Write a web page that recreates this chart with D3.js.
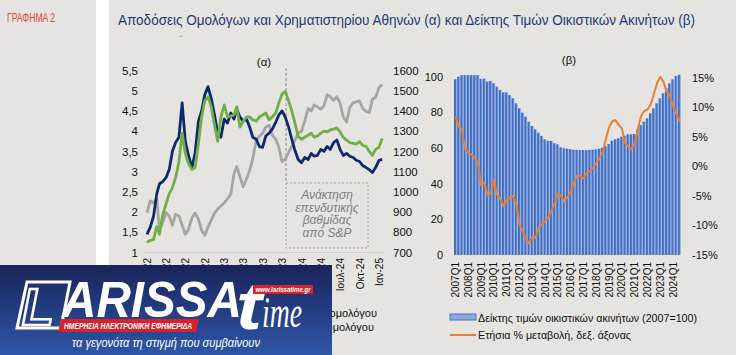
<!DOCTYPE html>
<html><head><meta charset="utf-8">
<script src="https://cdn.jsdelivr.net/npm/d3@7"></script>
<style>
html,body{margin:0;padding:0;background:#e5e4e0;}
svg{display:block;font-family:"Liberation Sans",Arial,sans-serif;}
</style></head><body>
<svg id="c" width="736" height="355"></svg>
<script>
// ---------- Chart (a) data ----------
const aDates = ["2022-01-01","2022-01-16","2022-02-01","2022-02-16","2022-03-01","2022-03-16","2022-04-01","2022-04-16","2022-05-01","2022-05-16","2022-06-01","2022-06-16","2022-07-01","2022-07-16","2022-08-01","2022-08-16","2022-09-01","2022-09-16","2022-10-01","2022-10-16","2022-11-01","2022-11-16","2022-12-01","2022-12-16",
"2023-01-01","2023-01-16","2023-02-01","2023-02-16","2023-03-01","2023-03-16","2023-04-01","2023-04-16","2023-05-01","2023-05-16","2023-06-01","2023-06-16","2023-07-01","2023-07-16","2023-08-01","2023-08-16","2023-09-01","2023-09-16","2023-10-01","2023-10-16","2023-11-01","2023-11-16","2023-12-01","2023-12-16",
"2024-01-01","2024-01-16","2024-02-01","2024-02-16","2024-03-01","2024-03-16","2024-04-01","2024-04-16","2024-05-01","2024-05-16","2024-06-01","2024-06-16","2024-07-01","2024-07-16","2024-08-01","2024-08-16","2024-09-01","2024-09-16","2024-10-01","2024-10-16","2024-11-01","2024-11-16","2024-12-01","2024-12-16",
"2025-01-01","2025-01-16"];
const grYield = [1.45,1.62,1.90,2.45,2.70,2.75,2.85,3.05,3.50,3.72,3.85,4.70,3.75,3.40,3.10,3.45,4.25,4.50,4.90,5.10,4.80,4.40,3.95,3.85,4.30,4.20,4.45,4.30,4.55,4.35,4.25,4.30,4.10,3.85,3.80,3.62,3.60,3.88,3.95,4.05,4.22,4.40,4.50,4.35,4.10,3.80,3.52,3.30,3.22,3.35,3.30,3.45,3.38,3.40,3.55,3.50,3.62,3.55,3.72,3.78,3.55,3.40,3.45,3.38,3.35,3.28,3.25,3.15,3.10,3.05,2.98,3.10,3.28,3.30];
const itYield = [1.25,1.30,1.32,1.64,1.45,1.92,2.20,2.45,2.60,2.85,3.25,3.95,3.45,3.20,3.05,3.10,3.70,4.35,4.75,4.85,4.60,4.15,3.75,4.35,4.65,4.35,4.38,4.40,4.60,4.10,4.25,4.35,4.35,4.28,4.25,4.35,4.40,4.45,4.28,4.35,4.45,4.70,4.92,4.98,4.75,4.50,4.20,3.87,3.80,3.85,3.90,3.95,3.85,3.88,3.95,4.00,3.98,4.03,4.05,4.08,3.98,3.85,3.78,3.72,3.70,3.68,3.74,3.65,3.62,3.50,3.40,3.55,3.60,3.82];
const athex = [895,955,945,965,810,850,898,880,835,890,880,835,790,815,870,895,865,810,785,825,860,895,915,930,945,965,990,1090,1125,1075,1025,1065,1105,1165,1255,1275,1290,1320,1330,1280,1260,1220,1150,1160,1195,1225,1255,1290,1300,1350,1412,1400,1430,1420,1408,1425,1480,1470,1452,1470,1440,1370,1345,1418,1440,1445,1450,1412,1398,1392,1458,1468,1515,1532];
const aYTicks = [1,1.5,2,2.5,3,3.5,4,4.5,5,5.5];
const aY2Ticks = [700,800,900,1000,1100,1200,1300,1400,1500,1600];
const aXTicks = ["2022-01-01","2022-04-01","2022-07-01","2022-10-01","2023-01-01","2023-04-01","2023-07-01","2023-10-01","2024-01-01","2024-04-01","2024-07-01","2024-10-01","2025-01-01"];
const aXLabels = ["Ιαν-22","Απρ-22","Ιουλ-22","Οκτ-22","Ιαν-23","Απρ-23","Ιουλ-23","Οκτ-23","Ιαν-24","Απρ-24","Ιουλ-24","Οκτ-24","Ιαν-25"];
const upgradeDate = "2023-10-20";
const annotLines = ["Ανάκτηση","επενδυτικής","βαθμίδας","από S&P"];
const aLegend = ["Απόδοση 10ετούς ελληνικού ομολόγου","Απόδοση 10ετούς ιταλικού ομολόγου"];

// ---------- Chart (b) data ----------
const quarters = ["2007Q1","2007Q2","2007Q3","2007Q4","2008Q1","2008Q2","2008Q3","2008Q4","2009Q1","2009Q2","2009Q3","2009Q4","2010Q1","2010Q2","2010Q3","2010Q4","2011Q1","2011Q2","2011Q3","2011Q4","2012Q1","2012Q2","2012Q3","2012Q4","2013Q1","2013Q2","2013Q3","2013Q4","2014Q1","2014Q2","2014Q3","2014Q4","2015Q1","2015Q2","2015Q3","2015Q4","2016Q1","2016Q2","2016Q3","2016Q4","2017Q1","2017Q2","2017Q3","2017Q4","2018Q1","2018Q2","2018Q3","2018Q4","2019Q1","2019Q2","2019Q3","2019Q4","2020Q1","2020Q2","2020Q3","2020Q4","2021Q1","2021Q2","2021Q3","2021Q4","2022Q1","2022Q2","2022Q3","2022Q4","2023Q1","2023Q2","2023Q3","2023Q4","2024Q1","2024Q2","2024Q3"];
const hpIndex = [98.4,99.9,100.8,100.8,100.8,100.8,100.8,100.8,98.6,98.8,97.1,97.5,96.2,94.3,92.4,91.1,91.1,89.6,87.8,85.0,82.2,79.7,77.5,74.7,72.3,70.4,68.5,66.7,64.8,64.0,63.9,62.6,62.0,60.3,59.8,59.6,59.3,59.0,58.9,58.8,58.8,58.8,58.9,59.0,59.2,59.5,60.1,61.0,62.2,64.0,64.8,65.4,66.3,66.9,67.6,67.6,67.8,70.0,72.8,74.7,76.6,79.4,82.2,85.0,87.8,90.6,93.4,96.2,98.4,100.3,101.0];
const hpChange = [8.4,6.7,6.1,2.9,2.3,2.0,1.4,0.6,-3.2,-2.8,-5.0,-4.6,-2.3,-4.8,-5.5,-6.8,-5.6,-5.4,-5.0,-6.3,-9.8,-11.0,-12.4,-13.0,-11.9,-12.1,-10.3,-9.8,-9.3,-8.7,-7.5,-6.3,-4.6,-5.0,-6.0,-5.3,-4.4,-2.7,-1.6,-1.6,-2.1,-1.1,-0.8,-0.3,0.5,1.3,2.3,4.6,6.6,7.6,7.8,7.0,6.4,3.9,3.3,2.9,3.7,6.3,8.5,9.3,9.6,10.4,12.2,14.0,15.1,14.3,12.6,12.0,10.2,9.0,7.6];
const bXLabels = ["2007Q1","2008Q1","2009Q1","2010Q1","2011Q1","2012Q1","2013Q1","2014Q1","2015Q1","2016Q1","2017Q1","2018Q1","2019Q1","2020Q1","2021Q1","2022Q1","2023Q1","2024Q1"];
const bYTicks = [0,20,40,60,80,100];
const bY2Ticks = [-15,-10,-5,0,5,10,15];
const bLegend = ["Δείκτης τιμών οικιστικών ακινήτων (2007=100)","Ετήσια % μεταβολή, δεξ. άξονας"];

// ---------- Drawing ----------
const svg = d3.select("#c");
const defs = svg.append("defs");
const bg = defs.append("linearGradient").attr("id","barg").attr("x1","0").attr("x2","1").attr("y1","0").attr("y2","0");
bg.append("stop").attr("offset","0%").attr("stop-color","#3964bd");
bg.append("stop").attr("offset","50%").attr("stop-color","#4a76c9");
bg.append("stop").attr("offset","100%").attr("stop-color","#cbd8f0");
const lg = defs.append("linearGradient").attr("id","logog").attr("x1","0").attr("x2","0").attr("y1","0").attr("y2","1");
lg.append("stop").attr("offset","0%").attr("stop-color","#19245a");
lg.append("stop").attr("offset","100%").attr("stop-color","#2f56a8");

svg.append("rect").attr("width",736).attr("height",355).attr("fill","#e5e4e0");
svg.append("rect").attr("x",96).attr("y",0).attr("width",13).attr("height",355).attr("fill","#ffffff");

svg.append("text").attr("x",7).attr("y",22).attr("fill","#e2453c")
  .style("font-family","'Liberation Sans Narrow','Arial Narrow',sans-serif").style("font-size","12.5px")
  .attr("textLength",48).attr("lengthAdjust","spacingAndGlyphs").text("ΓΡΑΦΗΜΑ 2");
svg.append("text").attr("x",118).attr("y",24.5).attr("fill","#1f3b77")
  .style("font-family","'Liberation Sans Narrow','Arial Narrow',sans-serif").style("font-size","14.5px")
  .attr("textLength",577).attr("lengthAdjust","spacingAndGlyphs")
  .text("Αποδόσεις Ομολόγων και Χρηματιστηρίου Αθηνών (α) και Δείκτης Τιμών Οικιστικών Ακινήτων (β)");
svg.append("text").attr("x",179).attr("y",44).attr("fill","#8a8a8a").style("font-size","10px").text("ˇ");

// ----- Chart (a) -----
const parse = d3.utcParse("%Y-%m-%d");
const xA = d3.scaleUtc().domain([parse("2022-01-01"), parse("2025-01-01")]).range([147, 379]);
const yA = d3.scaleLinear().domain([1, 5.5]).range([252.5, 70.5]);
const yA2 = d3.scaleLinear().domain([700, 1600]).range([252.5, 70.5]);
const fmtComma = d => String(d).replace(".", ",");

svg.append("line").attr("x1",145).attr("x2",384).attr("y1",yA(1)).attr("y2",yA(1))
  .attr("stroke","#d2d1cd").attr("stroke-width",1);

svg.append("text").attr("x",264).attr("y",66).attr("text-anchor","middle").style("font-size","11.5px").attr("fill","#111").text("(α)");

const axL = svg.append("g").attr("transform","translate(138,0)")
  .call(d3.axisLeft(yA).tickValues(aYTicks).tickSize(0).tickPadding(0).tickFormat(fmtComma));
const axR = svg.append("g").attr("transform","translate(393,0)")
  .call(d3.axisRight(yA2).tickValues(aY2Ticks).tickSize(0).tickPadding(0).tickFormat(d3.format("d")));
const axX = svg.append("g").attr("transform","translate(0,256)")
  .call(d3.axisBottom(xA).tickValues(aXTicks.map(parse)).tickSize(0).tickPadding(0)
    .tickFormat((d,i) => aXLabels[i]));
[axL, axR, axX].forEach(g => {
  g.select(".domain").remove();
  g.selectAll("text").attr("fill","#111").style("font-family","'Liberation Sans',Arial,sans-serif");
});
axL.selectAll("text").style("font-size","11.5px");
axR.selectAll("text").style("font-size","11.5px");
axX.selectAll("text").style("font-size","10px")
  .attr("text-anchor","end").attr("transform","rotate(-90)").attr("x",-2).attr("y",0).attr("dy","0.35em");

// upgrade marker + annotation box
const xu = xA(parse(upgradeDate));
svg.append("line").attr("x1",xu).attr("x2",xu).attr("y1",68).attr("y2",183)
  .attr("stroke","#8c8c8c").attr("stroke-width",1).attr("stroke-dasharray","3,2");
svg.append("rect").attr("x",xu).attr("y",183).attr("width",82).attr("height",65)
  .attr("fill","none").attr("stroke","#9a9a9a").attr("stroke-width",1).attr("stroke-dasharray","2,2");
annotLines.forEach((t,i) => {
  svg.append("text").attr("x",xu+41).attr("y",199+i*12.5).attr("text-anchor","middle")
    .style("font-size","12px").style("font-style","italic").attr("fill","#7f7f7f").text(t);
});

const dA = aDates.map(parse);
const lineL = d3.line().x((d,i) => xA(dA[i])).y(d => yA(d));
const lineR = d3.line().x((d,i) => xA(dA[i])).y(d => yA2(d));
svg.append("path").datum(athex).attr("d", lineR).attr("fill","none").attr("stroke","#a5a5a5").attr("stroke-width",2.8).attr("stroke-linejoin","round");
svg.append("path").datum(grYield).attr("d", lineL).attr("fill","none").attr("stroke","#0e2a6c").attr("stroke-width",2.8).attr("stroke-linejoin","round");
svg.append("path").datum(itYield).attr("d", lineL).attr("fill","none").attr("stroke","#72ae48").attr("stroke-width",2.8).attr("stroke-linejoin","round");

// ----- Chart (b) -----
const xB = d3.scaleBand().domain(quarters).range([454, 681]).padding(0);
const yB = d3.scaleLinear().domain([0, 100]).range([255, 76.5]);
const yB2 = d3.scaleLinear().domain([-15, 15]).range([255, 77.5]);

svg.append("text").attr("x",569).attr("y",64).attr("text-anchor","middle").style("font-size","11.5px").attr("fill","#111").text("(β)");

svg.append("g").selectAll("rect").data(hpIndex).join("rect")
  .attr("x",(d,i) => xB(quarters[i])).attr("width", xB.bandwidth())
  .attr("y", d => yB(d)).attr("height", d => yB(0) - yB(d)).attr("fill","url(#barg)");

const lineB = d3.line().x((d,i) => xB(quarters[i]) + xB.bandwidth()/2).y(d => yB2(d));
svg.append("path").datum(hpChange).attr("d", lineB).attr("fill","none").attr("stroke","#ed7d31").attr("stroke-width",2).attr("stroke-linejoin","round");

const bL = svg.append("g").attr("transform","translate(443,0)")
  .call(d3.axisLeft(yB).tickValues(bYTicks).tickSize(0).tickPadding(0));
const bR = svg.append("g").attr("transform","translate(692,0)")
  .call(d3.axisRight(yB2).tickValues(bY2Ticks).tickSize(0).tickPadding(0).tickFormat(d => d + "%"));
const bX = svg.append("g").attr("transform","translate(0,260)")
  .call(d3.axisBottom(xB).tickValues(bXLabels).tickSize(0).tickPadding(0));
[bL, bR, bX].forEach(g => {
  g.select(".domain").remove();
  g.selectAll("text").attr("fill","#111").style("font-family","'Liberation Sans',Arial,sans-serif").style("font-size","11px");
});
bX.selectAll("text").style("font-size","10px")
  .attr("text-anchor","end").attr("transform","rotate(-90)").attr("x",-2).attr("y",0).attr("dy","0.35em");

// legend (b)
svg.append("rect").attr("x",450).attr("y",314).attr("width",26).attr("height",6)
  .attr("fill","#8eaadc").attr("stroke","#4472c4").attr("stroke-width",1);
svg.append("line").attr("x1",450).attr("x2",476).attr("y1",335).attr("y2",335).attr("stroke","#ed7d31").attr("stroke-width",2);
svg.append("text").attr("x",478).attr("y",322).style("font-size","11px").attr("fill","#111")
  .attr("textLength",219).attr("lengthAdjust","spacingAndGlyphs").text(bLegend[0]);
svg.append("text").attr("x",478).attr("y",339).style("font-size","11px").attr("fill","#111")
  .attr("textLength",153).attr("lengthAdjust","spacingAndGlyphs").text(bLegend[1]);

// legend (a) – mostly covered by the logo
svg.append("text").attr("x",377).attr("y",317).attr("text-anchor","end").style("font-size","11px").attr("fill","#111").text(aLegend[0]);
svg.append("text").attr("x",374).attr("y",331).attr("text-anchor","end").style("font-size","11px").attr("fill","#111").text(aLegend[1]);

// ----- Logo overlay -----
const logo = svg.append("g");
logo.append("rect").attr("x",0).attr("y",265).attr("width",332).attr("height",90).attr("fill","url(#logog)");
logo.append("path").attr("d","M27,282 L70,282 L61,328 L17,328 Z").attr("fill","none").attr("stroke","#fff").attr("stroke-width",3);
logo.append("text").attr("x",22).attr("y",325).attr("fill","none").attr("stroke","#fff").attr("stroke-width",2.5)
  .style("font-size","52px").style("font-weight","bold").style("font-style","italic").text("L");
logo.append("text").attr("x",62).attr("y",317).attr("fill","#fff")
  .style("font-size","50px").style("font-weight","bold").style("font-style","italic")
  .attr("textLength",180).attr("lengthAdjust","spacingAndGlyphs").text("ARISSA");
logo.append("text").attr("x",236).attr("y",329).attr("fill","#fff")
  .style("font-size","66px").style("font-weight","bold").style("font-style","italic")
  .attr("textLength",26).attr("lengthAdjust","spacingAndGlyphs").text("t");
logo.append("text").attr("x",262).attr("y",327).attr("fill","#fff")
  .style("font-family","'Liberation Serif',serif").style("font-size","44px").style("font-style","italic")
  .attr("textLength",40).attr("lengthAdjust","spacingAndGlyphs").text("ime");
logo.append("rect").attr("x",253).attr("y",285).attr("width",60).attr("height",9).attr("fill","#d6232b");
logo.append("text").attr("x",283).attr("y",292).attr("text-anchor","middle").attr("fill","#fff")
  .style("font-size","7px").style("font-weight","bold").style("font-style","italic")
  .attr("textLength",55).attr("lengthAdjust","spacingAndGlyphs").text("www.larissatime.gr");
logo.append("path").attr("d","M61,319 L199,319 L196,332 L58,332 Z").attr("fill","#d6232b");
logo.append("text").attr("x",128).attr("y",329).attr("text-anchor","middle").attr("fill","#fff")
  .style("font-size","8.5px").style("font-weight","bold").style("font-style","italic")
  .attr("textLength",128).attr("lengthAdjust","spacingAndGlyphs").text("ΗΜΕΡΗΣΙΑ ΗΛΕΚΤΡΟΝΙΚΗ ΕΦΗΜΕΡΙΔΑ");
logo.append("text").attr("x",166).attr("y",347).attr("text-anchor","middle").attr("fill","#fff")
  .style("font-size","12.5px").style("font-style","italic")
  .attr("textLength",188).attr("lengthAdjust","spacingAndGlyphs").text("τα γεγονότα τη στιγμή που συμβαίνουν");
</script>
</body></html>
